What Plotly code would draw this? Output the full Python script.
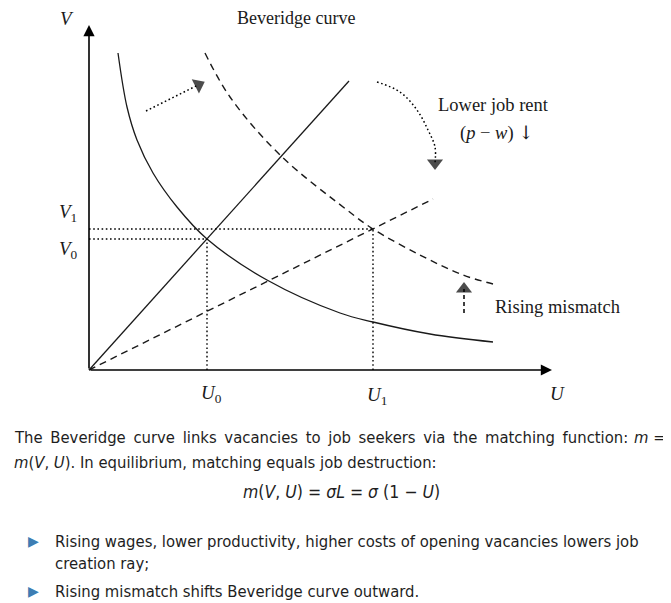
import plotly.graph_objects as go

# ---- data (diagram units; origin at the axes' corner) ----
bev0_u = [0.29, 0.38, 0.48, 0.64, 0.88, 1.18, 1.78, 2.51, 2.84, 3.41, 4.04]
bev0_v = [3.17, 2.63, 2.30, 1.97, 1.63, 1.31, 0.90, 0.57, 0.48, 0.36, 0.28]
bev1_u = [1.16, 1.41, 1.91, 2.58, 2.84, 3.31, 3.74, 4.04]
bev1_v = [3.17, 2.73, 2.15, 1.60, 1.41, 1.15, 0.95, 0.86]
ray0_u = [0.0, 2.60]
ray0_v = [0.0, 2.89]
ray1_u = [0.0, 3.44]
ray1_v = [0.0, 1.71]
U0, V0 = 1.18, 1.31
U1, V1 = 2.84, 1.41
axis_u_max, axis_v_max = 4.63, 3.45
shift_u = [0.57, 1.095]
shift_v = [2.59, 2.852]
rent_u = [2.88, 3.11, 3.28, 3.39, 3.46, 3.46]
rent_v = [2.88, 2.78, 2.60, 2.40, 2.23, 2.07]
mism_u = [3.75, 3.75]
mism_v = [0.57, 0.81]
tick_labels = {"V": "<i>V</i>", "U": "<i>U</i>",
               "V0": "<i>V</i><sub>0</sub>", "V1": "<i>V</i><sub>1</sub>",
               "U0": "<i>U</i><sub>0</sub>", "U1": "<i>U</i><sub>1</sub>"}

# page body has an 8px margin, so the figure is sized to fit inside the window
OFF = 8
W, H = 671 - OFF, 603 - OFF
INK = "#1a1a1a"
SERIF = "Liberation Serif, Times New Roman, serif"
SANS = "DejaVu Sans Condensed, Liberation Sans Narrow, Roboto, sans-serif"
BLUE = "#3d7db3"

fig = go.Figure()

def line(x, y, dash="solid", width=1.3, shape="linear", color=INK):
    fig.add_trace(go.Scatter(x=x, y=y, mode="lines", hoverinfo="skip",
                             line=dict(color=color, width=width, dash=dash, shape=shape, smoothing=1.0)))

def arrow_path(x, y, dash):
    n = len(x)
    fig.add_trace(go.Scatter(
        x=x, y=y, mode="lines+markers", hoverinfo="skip",
        line=dict(color="#000", width=1.5, dash=dash, shape="spline", smoothing=1.0),
        marker=dict(symbol="triangle-up", size=[0] * (n - 1) + [14], color="#000",
                    angleref="previous", line=dict(width=0))))

# Beveridge curves
line(bev0_u, bev0_v, shape="spline")
line(bev1_u, bev1_v, dash="7px,5px", shape="spline", width=1.4)
# job creation rays
line(ray0_u, ray0_v)
line(ray1_u, ray1_v, dash="7px,5px", width=1.4)
# dotted guides
DOT = "1.6px,2.6px"
line([0, U0], [V0, V0], dash=DOT, width=1.4, color="#000")
line([0, U1], [V1, V1], dash=DOT, width=1.4, color="#000")
line([U0, U0], [0, V0], dash=DOT, width=1.4, color="#000")
line([U1, U1], [0, V1], dash=DOT, width=1.4, color="#000")
# arrows
arrow_path(shift_u, shift_v, DOT)
arrow_path(rent_u, rent_v, DOT)
arrow_path(mism_u, mism_v, "4px,3px")

# axes with arrowheads
for (x, y) in [(axis_u_max, 0), (0, axis_v_max)]:
    fig.add_annotation(x=x, y=y, ax=0, ay=0, xref="x", yref="y", axref="x", ayref="y",
                       text="", showarrow=True, arrowhead=2, arrowsize=1.4,
                       arrowwidth=1.6, arrowcolor="#000", standoff=0)

def dlabel(text, x, y, size=19, xanchor="center"):
    fig.add_annotation(x=x, y=y, xref="x", yref="y", text=text, showarrow=False,
                       font=dict(family=SERIF, size=size, color=INK), xanchor=xanchor, yanchor="middle")

dlabel(tick_labels["V"], -0.22, 3.52)
dlabel(tick_labels["U"], 4.68, -0.23)
dlabel(tick_labels["V1"], -0.21, 1.57)
dlabel(tick_labels["V0"], -0.21, 1.20)
dlabel(tick_labels["U0"], U0 + 0.04, -0.24)
dlabel(tick_labels["U1"], U1 + 0.04, -0.26)
dlabel("Beveridge curve", 2.07, 3.52, size=18)
dlabel("Lower job rent", 4.04, 2.65, size=18.5)
dlabel("(<i>p</i> − <i>w</i>) <span style=\"font-family:DejaVu Serif\">↓</span>", 4.08, 2.37, size=18.5)
dlabel("Rising mismatch", 4.04, 0.63, size=18.5, xanchor="left")

# slide text (paper coordinates from window pixel positions)
def ptext(text, px, py, size=16.5, xanchor="left", color="#1e1e1e", family=SANS):
    fig.add_annotation(x=(px - OFF) / W, y=1 - (py - OFF) / H, xref="paper", yref="paper", text=text,
                       showarrow=False, xanchor=xanchor, yanchor="middle",
                       font=dict(family=family, size=size, color=color))

# first line is justified in the slide: widen its word gaps with thin spaces
line1 = "The Beveridge curve links vacancies to job seekers via the matching function:"
ptext(line1.replace(" ", " \u2009"), 12, 437)
ptext("<i>m</i> =", 668, 437, xanchor="right")
ptext("<i>m</i>(<i>V</i>, <i>U</i>). In equilibrium, matching equals job destruction:", 12, 463)
ptext("<i>m</i>(<i>V</i>, <i>U</i>) = <i>σL</i> = <i>σ</i> (1 − <i>U</i>)", 341, 492, xanchor="center", size=17.5)
ptext("▶", 33, 541, size=14, xanchor="center", color=BLUE, family="DejaVu Sans")
ptext("Rising wages, lower productivity, higher costs of opening vacancies lowers job", 53, 541)
ptext("creation ray;", 53, 563)
ptext("▶", 33, 591, size=14, xanchor="center", color=BLUE, family="DejaVu Sans")
ptext("Rising mismatch shifts Beveridge curve outward.", 53, 591)

fig.update_layout(
    width=W, height=H, margin=dict(l=0, r=0, t=0, b=0),
    paper_bgcolor="white", plot_bgcolor="white", showlegend=False,
    xaxis=dict(range=[(OFF - 89) / 100, (671 - 89) / 100], visible=False, fixedrange=True),
    yaxis=dict(range=[(370 - 603) / 100, (370 - OFF) / 100], visible=False, fixedrange=True),
)
fig.write_html("out.html")
